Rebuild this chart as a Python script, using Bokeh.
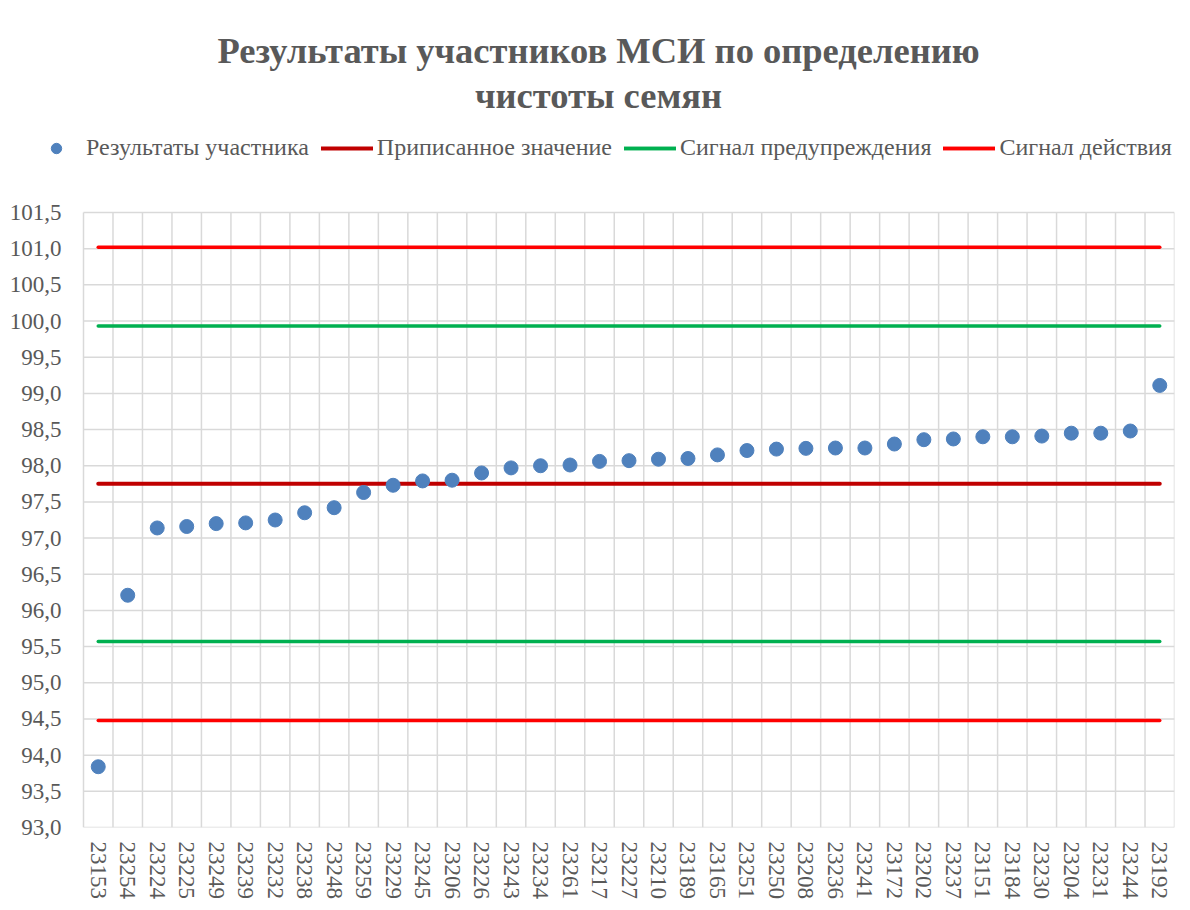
from bokeh.plotting import figure
from bokeh.models import (Range1d, FixedTicker, Label, Legend, LegendItem,
                          CustomJSTickFormatter, ColumnDataSource)
from bokeh.embed import file_html
from bokeh.resources import INLINE

participants = ["23153", "23254", "23224", "23225", "23249", "23239", "23232",
                "23238", "23248", "23259", "23229", "23245", "23206", "23226",
                "23243", "23234", "23261", "23217", "23227", "23210", "23189",
                "23165", "23251", "23250", "23208", "23236", "23241", "23172",
                "23202", "23237", "23151", "23184", "23230", "23204", "23231",
                "23244", "23192"]
results = [93.84, 96.21, 97.14, 97.16, 97.20, 97.21, 97.25,
           97.35, 97.42, 97.63, 97.73, 97.79, 97.80, 97.90,
           97.97, 98.00, 98.01, 98.06, 98.07, 98.09, 98.10,
           98.15, 98.21, 98.23, 98.24, 98.245, 98.245, 98.30,
           98.36, 98.37, 98.40, 98.40, 98.41, 98.45, 98.45,
           98.48, 99.11]
assigned_value = 97.75
warning_limits = [95.57, 99.93]
action_limits = [94.48, 101.02]
y_ticks = [93.0, 93.5, 94.0, 94.5, 95.0, 95.5, 96.0, 96.5, 97.0, 97.5,
           98.0, 98.5, 99.0, 99.5, 100.0, 100.5, 101.0, 101.5]

title_lines = ["Результаты участников МСИ по определению", "чистоты семян"]
legend_labels = ["Результаты участника", "Приписанное значение",
                 "Сигнал предупреждения", "Сигнал действия"]

FONT = "Liberation Serif"
GRAY = "#595959"
GRID = "#d9d9d9"

# layout geometry (pixels)
W, H = 1182, 902
FL, BR, BB = 20, 8, 75        # frame borders
PL, PT = 83, 212              # plot-area left / top inside figure
FB = H - BB                   # frame bottom (figure px)

n = len(participants)
x_idx = list(range(n))
ppc = (W - BR - PL) / n
ppu = (FB - PT) / (y_ticks[-1] - y_ticks[0])
x_start = -0.5 - (PL - FL) / ppc
y_end = y_ticks[-1] + PT / ppu

p = figure(width=W, height=H,
           x_range=Range1d(x_start, n - 0.5), y_range=Range1d(y_ticks[0], y_end),
           output_backend="svg", toolbar_location=None,
           min_border_left=FL, min_border_right=BR, min_border_bottom=BB,
           min_border_top=0)
p.title.visible = False
p.background_fill_color = "white"
p.border_fill_color = "white"
p.outline_line_color = None
p.xgrid.visible = False
p.ygrid.visible = False

# grid lines of the plot area
bounds = [i - 0.5 for i in range(n + 1)]
p.segment(x0=bounds, y0=[y_ticks[0]] * len(bounds), x1=bounds,
          y1=[y_ticks[-1]] * len(bounds), line_color=GRID, line_width=1.5)
p.segment(x0=[bounds[0]] * len(y_ticks), y0=y_ticks, x1=[bounds[-1]] * len(y_ticks),
          y1=y_ticks, line_color=GRID, line_width=1.5)

# axes
p.xaxis.ticker = FixedTicker(ticks=x_idx)
p.xaxis.major_label_overrides = {i: c for i, c in enumerate(participants)}
p.xaxis.major_label_orientation = "vertical"
p.yaxis.ticker = FixedTicker(ticks=y_ticks)
p.yaxis.formatter = CustomJSTickFormatter(code="return tick.toFixed(1).replace('.', ',');")
for ax in (p.xaxis[0], p.yaxis[0]):
    ax.axis_line_color = None
    ax.major_tick_line_color = None
    ax.minor_tick_line_color = None
    ax.major_tick_out = 0
    ax.major_tick_in = 0
    ax.major_label_text_font = FONT
    ax.major_label_text_font_size = "23px"
    ax.major_label_text_color = GRAY
p.xaxis.major_label_standoff = 14
p.yaxis.major_label_standoff = -41

ends = [x_idx[0], x_idx[-1]]
r_assigned = p.line(ends, [assigned_value, assigned_value], line_color="#C00000",
                    line_width=4, line_cap="round")
r_warn = [p.line(ends, [v, v], line_color="#00B050", line_width=3.5, line_cap="round")
          for v in warning_limits]
r_act = [p.line(ends, [v, v], line_color="#FF0000", line_width=3.5, line_cap="round")
         for v in action_limits]
src = ColumnDataSource(dict(x=x_idx, y=results, name=participants))
r_pts = p.scatter("x", "y", source=src, size=14, fill_color="#4F81BD",
                  line_color="#4F81BD", marker="circle")

legend = Legend(items=[
    LegendItem(label=legend_labels[0], renderers=[r_pts]),
    LegendItem(label=legend_labels[1], renderers=[r_assigned]),
    LegendItem(label=legend_labels[2], renderers=r_warn),
    LegendItem(label=legend_labels[3], renderers=r_act),
], orientation="horizontal", location=(30 - FL, FB - 161),
    label_text_font=FONT, label_text_font_size="24px", label_text_color=GRAY,
    glyph_width=52, glyph_height=26, label_height=26, label_standoff=4, spacing=12,
    padding=0, margin=0, border_line_alpha=0, background_fill_alpha=0)
p.add_layout(legend, "center")

for txt, base in zip(title_lines, [50, 95]):
    p.add_layout(Label(x=598 - FL, y=FB - base, x_units="screen", y_units="screen",
                       text=txt, text_font=FONT, text_font_size="36.5px",
                       text_font_style="bold", text_color=GRAY,
                       text_align="center", text_baseline="alphabetic"))

open("out.html", "w").write(file_html(p, INLINE))
